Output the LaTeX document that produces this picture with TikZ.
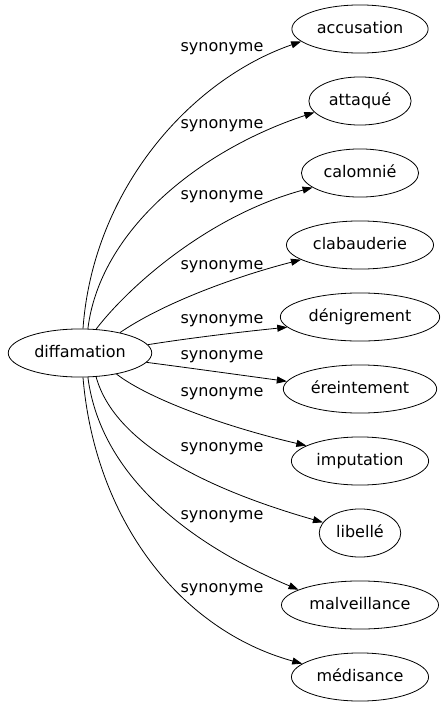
\documentclass[tikz,border=0pt]{standalone}
\usepackage{fontspec}
\setmainfont{DejaVu Sans}
\usetikzlibrary{shapes.geometric,arrows.meta}
\tikzset{word/.style={draw,ellipse,inner xsep=5pt,inner ysep=9pt,text height=12pt,text depth=4pt,font=\fontsize{16}{18}\selectfont},
  rel/.style={font=\fontsize{16}{18}\selectfont,inner sep=0pt},
  syn/.style={-{Triangle[length=10pt,width=7pt]},line width=0.8pt}}
\begin{document}
\begin{tikzpicture}[x=1pt,y=-1pt,line width=0.8pt]
\useasboundingbox (0,0) rectangle (446,707);
\node[word] (dif) at (80,353) {diffamation};
\node[word] (acc) at (360,29) {accusation};
\node[word] (att) at (360,101) {attaqué};
\node[word] (cal) at (360,173) {calomnié};
\node[word] (cla) at (360,245) {clabauderie};
\node[word] (den) at (360,317) {dénigrement};
\node[word] (ere) at (360,389) {éreintement};
\node[word] (imp) at (360,461) {imputation};
\node[word] (lib) at (360,533) {libellé};
\node[word] (mal) at (360,605) {malveillance};
\node[word] (med) at (360,677) {médisance};
% edges
\draw[syn] (dif.83) .. controls (93,190) and (190,80) .. (acc.192);
\draw[syn] (dif.72) .. controls (100,230) and (200,150) .. (att.194);
\draw[syn] (dif.56) .. controls (130,285) and (210,215) .. (cal.197);
\draw[syn] (dif.27) .. controls (160,305) and (230,278) .. (cla.194);
\draw[syn] (dif.7) .. controls (190,338) and (240,332) .. (den.188);
\draw[syn] (dif.-8) .. controls (190,368) and (240,375) .. (ere.174);
\draw[syn] (dif.-30) .. controls (150,400) and (230,428) .. (imp.164);
\draw[syn] (dif.-56) .. controls (115,445) and (210,490) .. (lib.164);
\draw[syn] (dif.-72) .. controls (100,470) and (180,540) .. (mal.166);
\draw[syn] (dif.-83) .. controls (95,520) and (180,630) .. (med.167);
% labels
\node[rel] (s1) at (222,49) {synonyme};
\node[rel] (s2) at (222,126) {synonyme};
\node[rel] (s3) at (222,197) {synonyme};
\node[rel] (s4) at (222,267) {synonyme};
\node[rel] (s5) at (222,321) {synonyme};
\node[rel] (s6) at (222,357) {synonyme};
\node[rel] (s7) at (222,394) {synonyme};
\node[rel] (s8) at (222,449) {synonyme};
\node[rel] (s9) at (222,517) {synonyme};
\node[rel] (s10) at (222,590) {synonyme};
\end{tikzpicture}
\end{document}
